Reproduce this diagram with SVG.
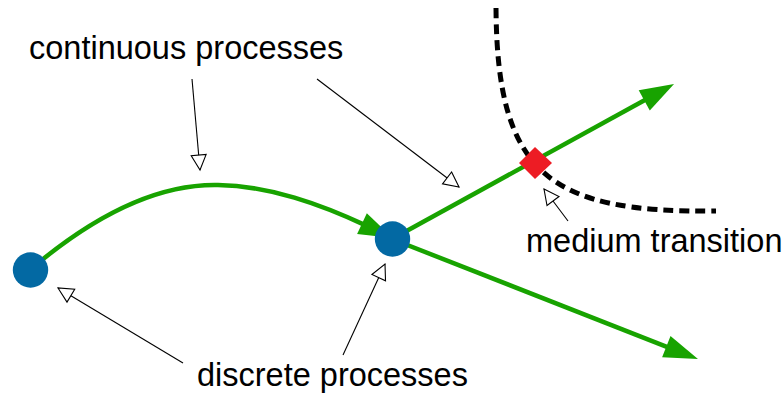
<svg xmlns="http://www.w3.org/2000/svg" width="783" height="398" viewBox="0 0 783 398">
<style>
.lbl{font-family:"Liberation Sans",Arial,sans-serif;font-size:32.5px;fill:#000}
.flow{fill:none;stroke:#18a300;stroke-width:4.5}
.ptr{fill:none;stroke:#000;stroke-width:1.1}
.node{fill:#0369a3}
</style>
<defs>
<marker id="ga" markerUnits="userSpaceOnUse" markerWidth="40" markerHeight="30" viewBox="-2 -14 40 28" refX="6" refY="0" orient="auto">
<path d="M0,-11.5 L34,0 L0,11.5 Z" fill="#18a300"/>
</marker>
<marker id="oa" markerUnits="userSpaceOnUse" markerWidth="20" markerHeight="20" viewBox="-2 -10 20 20" refX="15" refY="0" orient="auto">
<path d="M0,-7.5 L15,0 L0,7.5 Z" fill="#fff" stroke="#000" stroke-width="1.1"/>
</marker>
</defs>
<g id="boundary">
<path d="M496,8 C497,175 550,213 716,211" fill="none" stroke="#000" stroke-width="5" stroke-dasharray="10 6"/>
</g>
<g id="connectors">
<path class="flow" d="M31,269 C110,202 170,184 218,185 C270,186 320,204 367.4,226.1" marker-end="url(#ga)"/>
<line class="flow" x1="392" y1="239" x2="649.5" y2="97.5" marker-end="url(#ga)"/>
<line class="flow" x1="392" y1="239" x2="671.9" y2="348.8" marker-end="url(#ga)"/>
<line class="ptr" x1="192" y1="79" x2="200" y2="170" marker-end="url(#oa)"/>
<line class="ptr" x1="317" y1="79" x2="459" y2="187" marker-end="url(#oa)"/>
<line class="ptr" x1="568" y1="221" x2="544" y2="189" marker-end="url(#oa)"/>
<line class="ptr" x1="183" y1="363" x2="58" y2="288" marker-end="url(#oa)"/>
<line class="ptr" x1="343" y1="355" x2="385" y2="264" marker-end="url(#oa)"/>
</g>
<g id="node1"><circle class="node" cx="30.5" cy="270" r="17.7"/></g>
<g id="node2"><circle class="node" cx="392.5" cy="239" r="17.7"/></g>
<g id="transition"><polygon points="535,147 552,163 535,179 519,163" fill="#ed1c24"/></g>
<g id="label-continuous"><text class="lbl" x="29" y="59">continuous processes</text></g>
<g id="label-medium"><text class="lbl" x="526" y="252">medium transition</text></g>
<g id="label-discrete"><text class="lbl" x="197" y="386">discrete processes</text></g>
</svg>
